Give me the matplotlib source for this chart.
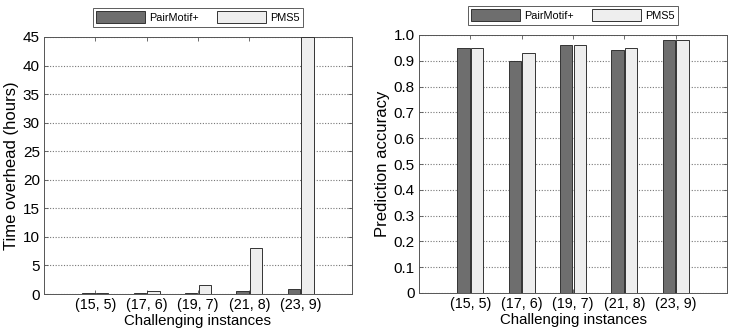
import matplotlib
matplotlib.use("Agg")
import matplotlib.pyplot as plt
import numpy as np

categories = ["(15, 5)", "(17, 6)", "(19, 7)", "(21, 8)", "(23, 9)"]
series_names = ["PairMotif+", "PMS5"]
time_pairmotif = [0.1, 0.1, 0.1, 0.5, 0.9]
time_pms5 = [0.1, 0.6, 1.5, 8.1, 45]
acc_pairmotif = [0.95, 0.90, 0.96, 0.94, 0.98]
acc_pms5 = [0.95, 0.93, 0.96, 0.95, 0.98]

plt.rcParams['font.family'] = ['Liberation Sans', 'DejaVu Sans']

dark = "#6e6e6e"
light = "#eeeeee"
edge = "#333333"

fig = plt.figure(figsize=(7.31, 3.35), dpi=100)
W, H = 731, 335
ax1 = fig.add_axes([44 / W, 1 - 294 / H, 308 / W, 257 / H])
ax2 = fig.add_axes([419 / W, 1 - 293 / H, 308 / W, 258 / H])

x = np.arange(1, len(categories) + 1)
bw = 0.24
off = 0.135

def style(ax, a, b, ylim, yticks, ylabel, yfmt):
    ax.bar(x - off, a, bw, color=dark, edgecolor=edge, linewidth=0.7, label=series_names[0], zorder=3)
    ax.bar(x + off, b, bw, color=light, edgecolor=edge, linewidth=0.7, label=series_names[1], zorder=3)
    ax.set_xlim(0, 6)
    ax.set_ylim(*ylim)
    ax.set_xticks(x)
    ax.set_xticklabels(categories, fontsize=10.3)
    ax.set_yticks(yticks)
    ax.set_yticklabels([yfmt(v) for v in yticks], fontsize=11)
    ax.yaxis.grid(True, linestyle=(0, (1, 1.5)), color="#777777", linewidth=0.8, zorder=0)
    ax.tick_params(direction="in", top=True, right=True, length=3, color="#555555", width=0.6, pad=3)
    for s in ax.spines.values():
        s.set_color("#555555")
        s.set_linewidth(0.7)
    ax.set_xlabel("Challenging instances", fontsize=10.8, labelpad=1)
    ax.set_ylabel(ylabel, fontsize=12, labelpad=3)
    leg = ax.legend(loc="lower center", bbox_to_anchor=(0.5, 1.04), ncol=2, fontsize=7.8,
                    frameon=True, fancybox=False, edgecolor="#333333", handlelength=4.5,
                    handleheight=1.4, borderpad=0.3, columnspacing=1.7, handletextpad=0.4,
                    borderaxespad=0)
    leg.get_frame().set_linewidth(0.7)

style(ax1, time_pairmotif, time_pms5, (0, 45), list(range(0, 50, 5)), "Time overhead (hours)",
      lambda v: f"{v:d}")
style(ax2, acc_pairmotif, acc_pms5, (0, 1.0), [round(0.1 * i, 1) for i in range(11)], "Prediction accuracy",
      lambda v: "0" if v == 0 else f"{v:.1f}")

fig.savefig("out.png", dpi=100)
